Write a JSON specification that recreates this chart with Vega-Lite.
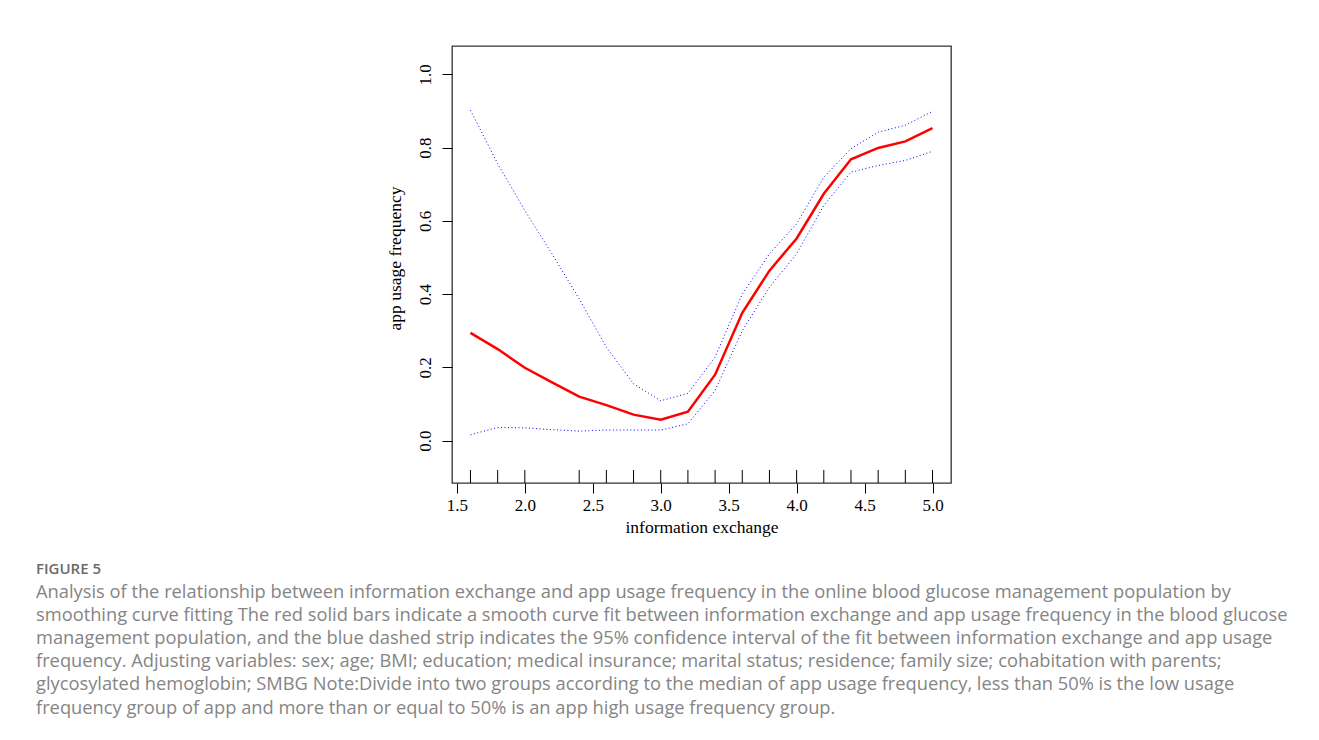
{
  "$schema": "https://vega.github.io/schema/vega-lite/v6.json",
  "autosize": "none",
  "width": 499,
  "height": 437,
  "padding": {"left": 452, "top": 46, "right": 368, "bottom": 257},
  "background": "white",
  "title": {
    "text": "FIGURE 5",
    "subtitle": [
      "Analysis of the relationship between information exchange and app usage frequency in the online blood glucose management population by",
      "smoothing curve fitting The red solid bars indicate a smooth curve fit between information exchange and app usage frequency in the blood glucose",
      "management population, and the blue dashed strip indicates the 95% confidence interval of the fit between information exchange and app usage",
      "frequency. Adjusting variables: sex; age; BMI; education; medical insurance; marital status; residence; family size; cohabitation with parents;",
      "glycosylated hemoglobin; SMBG Note:Divide into two groups according to the median of app usage frequency, less than 50% is the low usage",
      "frequency group of app and more than or equal to 50% is an app high usage frequency group."
    ],
    "orient": "bottom",
    "anchor": "start",
    "frame": "group",
    "dx": -416,
    "offset": 26,
    "font": "Open Sans",
    "fontSize": 15,
    "fontWeight": 600,
    "color": "#6a6a6a",
    "subtitleFont": "Open Sans",
    "subtitleFontSize": 18.3,
    "subtitleColor": "#858585",
    "subtitleLineHeight": 23.2,
    "subtitlePadding": 7
  },
  "data": {
    "values": [
      {"x": 1.6, "fit": 0.294, "lower": 0.016, "upper": 0.902},
      {"x": 1.8, "fit": 0.250, "lower": 0.036, "upper": 0.756},
      {"x": 2.0, "fit": 0.199, "lower": 0.035, "upper": 0.628},
      {"x": 2.2, "fit": 0.159, "lower": 0.030, "upper": 0.510},
      {"x": 2.4, "fit": 0.120, "lower": 0.026, "upper": 0.387},
      {"x": 2.6, "fit": 0.097, "lower": 0.029, "upper": 0.255},
      {"x": 2.8, "fit": 0.071, "lower": 0.029, "upper": 0.155},
      {"x": 3.0, "fit": 0.057, "lower": 0.029, "upper": 0.109},
      {"x": 3.2, "fit": 0.079, "lower": 0.046, "upper": 0.129},
      {"x": 3.4, "fit": 0.180, "lower": 0.137, "upper": 0.228},
      {"x": 3.6, "fit": 0.349, "lower": 0.300, "upper": 0.400},
      {"x": 3.8, "fit": 0.464, "lower": 0.419, "upper": 0.510},
      {"x": 4.0, "fit": 0.552, "lower": 0.510, "upper": 0.592},
      {"x": 4.2, "fit": 0.674, "lower": 0.642, "upper": 0.719},
      {"x": 4.4, "fit": 0.768, "lower": 0.733, "upper": 0.797},
      {"x": 4.6, "fit": 0.799, "lower": 0.751, "upper": 0.842},
      {"x": 4.8, "fit": 0.817, "lower": 0.765, "upper": 0.861},
      {"x": 5.0, "fit": 0.853, "lower": 0.790, "upper": 0.899}
    ]
  },
  "encoding": {
    "x": {
      "field": "x",
      "type": "quantitative",
      "scale": {"domain": [1.464, 5.136], "nice": false, "zero": false},
      "axis": {
        "title": "information exchange",
        "values": [1.5, 2.0, 2.5, 3.0, 3.5, 4.0, 4.5, 5.0],
        "format": ".1f",
        "domain": false,
        "grid": false,
        "tickSize": 10,
        "tickColor": "#000000",
        "labelFont": "Liberation Serif",
        "labelFontSize": 17,
        "labelColor": "#000000",
        "labelPadding": 4,
        "titleFont": "Liberation Serif",
        "titleFontSize": 17.5,
        "titleFontWeight": "normal",
        "titleColor": "#000000",
        "titlePadding": 5
      }
    }
  },
  "layer": [
    {
      "data": {
        "values": [
          {"r": 1.6}, {"r": 1.8}, {"r": 2.0}, {"r": 2.4}, {"r": 2.6}, {"r": 2.8},
          {"r": 3.0}, {"r": 3.2}, {"r": 3.4}, {"r": 3.6}, {"r": 3.8}, {"r": 4.0},
          {"r": 4.2}, {"r": 4.4}, {"r": 4.6}, {"r": 4.8}, {"r": 5.0}
        ]
      },
      "mark": {"type": "rule", "color": "#000000", "strokeWidth": 1},
      "encoding": {
        "x": {"field": "r", "type": "quantitative"},
        "y": {"datum": -0.1156},
        "y2": {"datum": -0.08}
      }
    },
    {
      "mark": {"type": "line", "color": "#0000FF", "strokeWidth": 1, "strokeDash": [1, 2.5]},
      "encoding": {
        "y": {
          "field": "upper",
          "type": "quantitative",
          "scale": {"domain": [-0.1156, 1.0773], "nice": false, "zero": false},
          "axis": {
            "title": "app usage frequency",
            "values": [0, 0.2, 0.4, 0.6, 0.8, 1.0],
            "format": ".1f",
            "domain": false,
            "grid": false,
            "tickSize": 10,
            "tickColor": "#000000",
            "labelAngle": -90,
            "labelAlign": "center",
            "labelBaseline": "alphabetic",
            "labelFont": "Liberation Serif",
            "labelFontSize": 17,
            "labelColor": "#000000",
            "labelPadding": 12,
            "titleFont": "Liberation Serif",
            "titleFontSize": 17.5,
            "titleFontWeight": "normal",
            "titleColor": "#000000",
            "titlePadding": 12,
            "titleY": 212
          }
        }
      }
    },
    {
      "mark": {"type": "line", "color": "#0000FF", "strokeWidth": 1, "strokeDash": [1, 2.5]},
      "encoding": {"y": {"field": "lower", "type": "quantitative"}}
    },
    {
      "mark": {"type": "line", "color": "#FF0000", "strokeWidth": 2.5},
      "encoding": {"y": {"field": "fit", "type": "quantitative"}}
    }
  ],
  "config": {
    "view": {"stroke": "#333333", "strokeWidth": 1.3},
    "axis": {"tickWidth": 1}
  }
}
